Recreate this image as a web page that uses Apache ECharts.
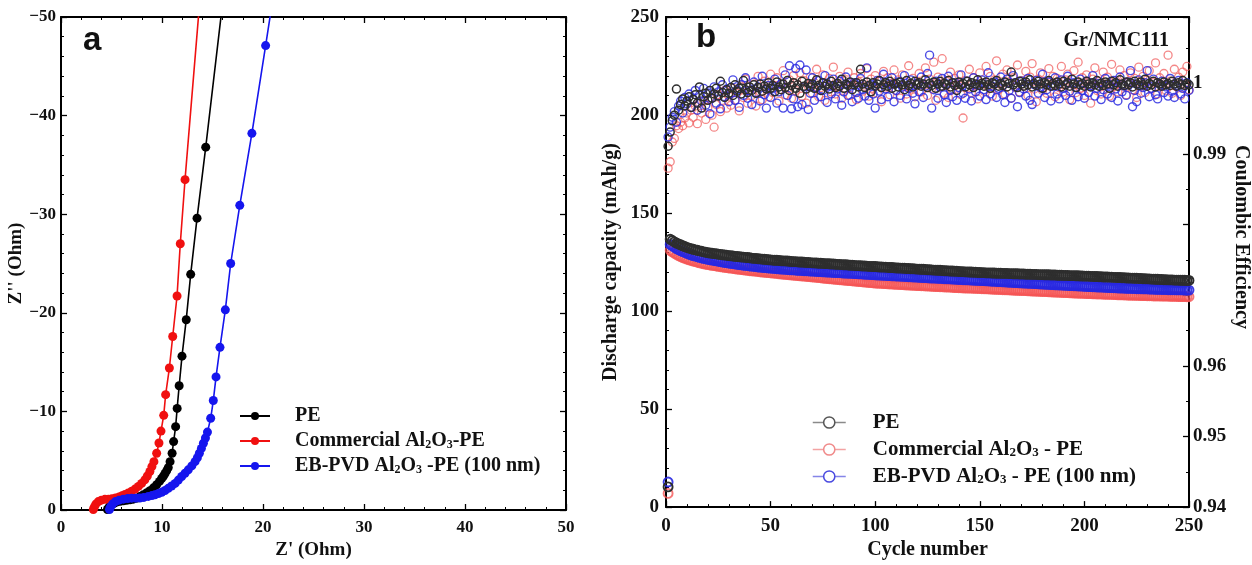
<!DOCTYPE html>
<html><head><meta charset="utf-8">
<script src="https://cdn.jsdelivr.net/npm/echarts@6/dist/echarts.min.js"></script>
<style>html,body{margin:0;padding:0;background:#fff}#c{width:1252px;height:565px}</style>
</head><body><div id="c"></div>
<script>
// ---------- Panel a: Nyquist plot (Z' , Z'') ----------
const zrePE = [4.6,4.7,4.85,5.0,5.25,5.5,5.85,6.17,6.5,6.83,7.15,7.5,7.82,8.15,8.5,8.8,9.15,9.47,9.75,9.97,10.15,10.3,10.47,10.62,10.8,11.0,11.15,11.35,11.5,11.7,11.98,12.4,12.84,13.47,14.33,16.18];
const zimPE = [-0.05,-0.2,-0.4,-0.54,-0.68,-0.8,-0.88,-0.94,-0.99,-1.04,-1.1,-1.2,-1.36,-1.55,-1.75,-1.95,-2.25,-2.56,-2.9,-3.2,-3.45,-3.7,-4.0,-4.3,-4.9,-5.76,-6.94,-8.45,-10.3,-12.6,-15.6,-19.3,-23.9,-29.6,-36.8,-53];
const zreCom = [3.2,3.3,3.45,3.7,4.0,4.35,4.7,5.05,5.4,5.75,6.05,6.34,6.67,7.0,7.33,7.66,7.98,8.3,8.55,8.8,9.0,9.2,9.47,9.7,9.9,10.17,10.36,10.73,11.06,11.49,11.81,12.28,13.85];
const zimCom = [-0.05,-0.3,-0.6,-0.85,-1.0,-1.08,-1.1,-1.15,-1.22,-1.32,-1.45,-1.58,-1.72,-1.9,-2.12,-2.39,-2.7,-3.06,-3.45,-3.9,-4.4,-4.9,-5.76,-6.8,-8.0,-9.6,-11.7,-14.4,-17.6,-21.7,-27.0,-33.5,-53];
const zreEB = [4.8,4.9,5.1,5.4,5.75,6.17,6.6,7.0,7.4,7.8,8.2,8.64,9.0,9.3,9.65,9.97,10.3,10.62,10.95,11.3,11.62,11.95,12.28,12.6,12.95,13.27,13.5,13.7,13.9,14.1,14.3,14.5,14.82,15.08,15.35,15.74,16.27,16.8,17.7,18.9,20.26,21.9];
const zimEB = [-0.05,-0.3,-0.6,-0.85,-1.0,-1.1,-1.17,-1.2,-1.2,-1.22,-1.28,-1.38,-1.46,-1.55,-1.67,-1.8,-1.98,-2.2,-2.43,-2.7,-3.03,-3.4,-3.73,-4.07,-4.47,-4.9,-5.3,-5.76,-6.25,-6.77,-7.3,-7.9,-9.3,-11.1,-13.5,-16.5,-20.3,-25.0,-30.9,-38.2,-47.1,-58];

// ---------- Panel b: cycling (cycle 1..250) ----------
const capPE = [10.3,136.6,136.0,135.3,134.7,134.2,133.8,133.3,132.9,132.5,
132.1,131.8,131.5,131.2,131.0,130.7,130.5,130.2,130.0,129.8,
129.6,129.5,129.3,129.2,129.0,128.9,128.7,128.6,128.5,128.3,
128.2,128.1,127.9,127.8,127.7,127.6,127.5,127.4,127.3,127.2,
127.0,126.9,126.9,126.7,126.6,126.5,126.4,126.3,126.2,126.1,
126.0,125.9,125.9,125.8,125.7,125.6,125.6,125.5,125.4,125.3,
125.2,125.2,125.1,125.0,125.0,124.9,124.8,124.8,124.7,124.6,
124.6,124.5,124.4,124.4,124.3,124.2,124.2,124.1,124.0,124.0,
123.9,123.8,123.8,123.7,123.6,123.6,123.5,123.4,123.4,123.3,
123.2,123.2,123.1,123.0,123.0,122.9,122.8,122.8,122.7,122.7,
122.6,122.5,122.5,122.4,122.4,122.3,122.2,122.2,122.1,122.0,
122.0,121.9,121.9,121.8,121.7,121.7,121.6,121.6,121.5,121.4,
121.4,121.3,121.3,121.2,121.1,121.1,121.0,120.9,120.9,120.8,
120.8,120.7,120.6,120.6,120.5,120.4,120.4,120.3,120.3,120.2,
120.1,120.1,120.0,120.0,119.9,119.9,119.8,119.8,119.7,119.7,
119.6,119.6,119.5,119.5,119.5,119.4,119.4,119.3,119.3,119.3,
119.2,119.2,119.2,119.1,119.1,119.0,119.0,119.0,118.9,118.9,
118.9,118.8,118.8,118.8,118.7,118.7,118.7,118.6,118.6,118.6,
118.5,118.5,118.5,118.4,118.4,118.4,118.3,118.3,118.3,118.2,
118.2,118.2,118.1,118.1,118.1,118.0,118.0,117.9,117.9,117.8,
117.8,117.8,117.7,117.7,117.6,117.6,117.5,117.5,117.4,117.4,
117.4,117.3,117.3,117.2,117.2,117.1,117.1,117.0,117.0,116.9,
116.9,116.8,116.8,116.7,116.7,116.6,116.6,116.5,116.5,116.4,
116.4,116.3,116.3,116.2,116.2,116.1,116.1,116.0,116.0,115.9,
115.9,115.9,115.8,115.8,115.8,115.7,115.7,115.7,115.6,115.6];
const capCom = [7.0,131.0,130.2,129.5,128.9,128.3,127.8,127.3,126.9,126.5,
126.1,125.8,125.5,125.2,124.9,124.6,124.4,124.1,123.9,123.7,
123.5,123.3,123.2,123.0,122.8,122.6,122.5,122.3,122.2,122.0,
121.9,121.7,121.6,121.4,121.3,121.2,121.0,120.9,120.8,120.6,
120.5,120.4,120.3,120.2,120.0,119.9,119.8,119.7,119.6,119.5,
119.4,119.3,119.2,119.0,118.9,118.8,118.7,118.6,118.5,118.4,
118.3,118.2,118.1,118.0,117.9,117.8,117.7,117.6,117.5,117.4,
117.3,117.2,117.1,117.0,116.8,116.7,116.6,116.5,116.4,116.3,
116.2,116.1,116.0,115.9,115.8,115.7,115.6,115.5,115.4,115.3,
115.2,115.1,115.0,114.9,114.8,114.7,114.6,114.5,114.4,114.3,
114.2,114.2,114.1,114.0,114.0,113.9,113.8,113.8,113.7,113.6,
113.6,113.5,113.5,113.4,113.3,113.3,113.2,113.2,113.1,113.0,
113.0,112.9,112.9,112.8,112.8,112.7,112.6,112.6,112.5,112.5,
112.4,112.4,112.3,112.3,112.2,112.2,112.1,112.0,112.0,111.9,
111.9,111.8,111.8,111.7,111.7,111.7,111.6,111.6,111.5,111.5,
111.4,111.4,111.3,111.3,111.2,111.2,111.1,111.1,111.0,111.0,
110.9,110.9,110.8,110.8,110.7,110.7,110.6,110.6,110.5,110.5,
110.4,110.4,110.3,110.3,110.2,110.2,110.1,110.1,110.0,110.0,
109.9,109.9,109.8,109.8,109.7,109.7,109.6,109.6,109.5,109.5,
109.4,109.4,109.3,109.3,109.2,109.2,109.1,109.1,109.0,109.0,
108.9,108.9,108.9,108.8,108.8,108.7,108.7,108.7,108.6,108.6,
108.5,108.5,108.5,108.4,108.4,108.3,108.3,108.3,108.2,108.2,
108.1,108.1,108.1,108.0,108.0,108.0,107.9,107.9,107.9,107.8,
107.8,107.8,107.7,107.7,107.7,107.7,107.6,107.6,107.6,107.6,
107.5,107.5,107.5,107.5,107.4,107.4,107.4,107.4,107.3,107.3];
const capEB = [12.8,134.0,133.3,132.6,131.9,131.3,130.8,130.3,129.9,129.4,
129.0,128.6,128.3,128.0,127.7,127.4,127.1,126.9,126.6,126.4,
126.2,126.0,125.8,125.6,125.4,125.2,125.0,124.8,124.7,124.5,
124.3,124.2,124.0,123.9,123.7,123.6,123.4,123.3,123.2,123.0,
122.9,122.8,122.7,122.5,122.4,122.3,122.2,122.1,122.0,121.9,
121.8,121.7,121.6,121.5,121.4,121.4,121.3,121.2,121.1,121.0,
121.0,120.9,120.8,120.8,120.7,120.6,120.6,120.5,120.4,120.4,
120.3,120.2,120.2,120.1,120.0,120.0,119.9,119.9,119.8,119.7,
119.7,119.6,119.6,119.5,119.4,119.4,119.3,119.3,119.2,119.1,
119.1,119.0,119.0,118.9,118.8,118.8,118.7,118.6,118.6,118.5,
118.4,118.4,118.3,118.3,118.2,118.1,118.1,118.0,118.0,117.9,
117.8,117.8,117.7,117.7,117.6,117.5,117.5,117.4,117.4,117.3,
117.2,117.2,117.1,117.1,117.0,116.9,116.9,116.8,116.8,116.7,
116.7,116.6,116.5,116.5,116.4,116.4,116.3,116.3,116.2,116.1,
116.1,116.0,116.0,115.9,115.9,115.8,115.8,115.7,115.7,115.6,
115.5,115.5,115.4,115.4,115.3,115.2,115.2,115.1,115.0,115.0,
114.9,114.9,114.8,114.7,114.7,114.6,114.5,114.5,114.4,114.4,
114.3,114.3,114.2,114.1,114.1,114.0,114.0,113.9,113.8,113.8,
113.7,113.7,113.6,113.5,113.5,113.4,113.4,113.3,113.3,113.2,
113.2,113.1,113.0,113.0,112.9,112.9,112.8,112.8,112.7,112.6,
112.6,112.5,112.5,112.4,112.4,112.3,112.3,112.2,112.2,112.1,
112.1,112.0,112.0,111.9,111.9,111.8,111.8,111.7,111.7,111.6,
111.6,111.6,111.5,111.5,111.4,111.4,111.4,111.3,111.3,111.3,
111.2,111.2,111.2,111.1,111.1,111.1,111.0,111.0,111.0,110.9,
110.9,110.9,110.9,110.8,110.8,110.8,110.8,110.7,110.7,110.7];
const cePE = [0.9911,0.9931,0.9947,0.9955,0.9992,0.9962,0.9970,0.9978,0.9968,0.9975,
0.9981,0.9966,0.9977,0.9984,0.9972,0.9995,0.9965,0.9981,0.9986,0.9976,
0.9990,0.9979,0.9985,0.9993,0.9982,1.0003,0.9987,0.9980,0.9991,0.9986,
0.9994,0.9983,0.9998,0.9989,0.9993,0.9985,1.0004,0.9991,0.9987,0.9995,
0.9990,0.9998,0.9986,0.9994,0.9999,0.9989,0.9996,0.9992,1.0001,0.9993,
0.9997,0.9988,1.0002,0.9995,0.9991,0.9999,0.9994,1.0004,0.9990,0.9997,
1.0001,0.9993,0.9998,0.9986,1.0003,0.9996,0.9992,1.0000,0.9995,0.9999,
0.9993,1.0005,0.9997,0.9990,1.0001,0.9996,0.9999,0.9992,1.0003,0.9997,
0.9994,1.0000,0.9996,1.0006,0.9993,0.9999,0.9997,1.0002,0.9991,0.9998,
1.0001,0.9995,1.0020,0.9999,0.9994,1.0002,0.9997,0.9988,1.0001,0.9996,
0.9999,1.0004,0.9994,0.9998,1.0001,0.9996,1.0003,0.9993,0.9999,1.0000,
0.9995,1.0002,0.9998,0.9991,1.0004,0.9997,1.0000,0.9995,1.0003,0.9998,
1.0001,0.9996,0.9999,1.0005,0.9994,1.0000,0.9997,1.0002,0.9993,0.9999,
1.0003,0.9996,1.0000,0.9998,1.0004,0.9995,1.0001,0.9997,0.9990,1.0002,
0.9998,1.0000,0.9995,1.0003,0.9998,1.0001,0.9994,0.9999,1.0005,0.9997,
1.0000,0.9996,1.0002,0.9998,0.9993,1.0001,0.9999,1.0004,0.9996,1.0000,
0.9997,1.0002,0.9995,1.0000,1.0016,0.9998,1.0001,0.9994,1.0003,0.9999,
0.9996,1.0002,0.9998,1.0005,0.9995,1.0000,0.9997,1.0003,0.9999,0.9993,
1.0001,0.9998,1.0004,0.9996,1.0000,0.9997,1.0002,0.9999,0.9995,1.0003,
0.9998,1.0001,0.9996,1.0006,0.9999,0.9994,1.0002,0.9998,1.0000,0.9996,
1.0003,0.9999,0.9995,1.0001,0.9998,1.0004,0.9996,1.0000,0.9997,1.0002,
0.9999,0.9993,1.0003,0.9998,1.0001,0.9996,1.0005,0.9999,0.9997,1.0002,
0.9998,1.0001,0.9995,1.0003,0.9999,0.9997,1.0002,0.9998,1.0006,0.9996,
1.0000,0.9998,1.0003,0.9995,1.0001,0.9999,0.9996,1.0002,0.9998,1.0000,
0.9997,1.0003,0.9999,0.9996,1.0001,0.9998,1.0004,0.9997,1.0000,0.9998];
const ceCom = [0.9880,0.9889,0.9917,0.9922,0.9940,0.9936,0.9945,0.9940,0.9951,0.9958,
0.9944,0.9962,0.9952,0.9968,0.9943,0.9972,0.9958,0.9975,0.9949,0.9966,
0.9979,0.9955,0.9938,0.9970,0.9984,0.9960,0.9976,0.9990,0.9965,0.9982,
0.9969,0.9993,0.9976,0.9987,0.9961,0.9995,0.9980,1.0006,0.9972,0.9990,
0.9983,0.9999,0.9968,1.0010,0.9988,0.9977,1.0003,0.9992,0.9981,1.0013,
0.9987,0.9996,1.0008,0.9975,0.9999,1.0018,0.9984,0.9993,1.0005,0.9979,
1.0011,0.9990,0.9998,1.0015,0.9982,1.0004,0.9972,0.9996,1.0009,0.9986,
1.0001,1.0020,0.9981,0.9994,1.0012,0.9976,0.9999,1.0007,0.9988,1.0023,
0.9985,0.9997,1.0010,0.9979,1.0004,0.9992,1.0016,0.9983,0.9998,1.0008,
0.9977,1.0002,1.0014,0.9989,0.9996,1.0021,0.9982,1.0006,0.9993,1.0011,
0.9986,1.0003,0.9974,1.0017,0.9995,1.0008,0.9984,1.0000,1.0019,0.9990,
1.0005,0.9979,1.0012,0.9996,0.9985,1.0025,0.9992,1.0007,0.9981,1.0001,
1.0014,0.9988,0.9997,1.0022,0.9983,1.0006,0.9993,1.0030,0.9976,1.0009,
0.9995,1.0035,0.9986,1.0003,0.9980,1.0016,0.9991,1.0007,0.9998,1.0012,
0.9984,0.9951,1.0004,0.9993,1.0020,0.9987,1.0008,0.9997,0.9978,1.0015,
1.0001,0.9989,1.0024,0.9995,1.0010,0.9982,1.0005,1.0032,0.9991,0.9998,
1.0013,0.9985,1.0019,1.0002,0.9979,1.0008,0.9994,1.0026,0.9988,1.0004,
0.9996,1.0017,0.9983,1.0009,1.0028,0.9992,0.9974,1.0006,1.0015,0.9990,
1.0003,0.9986,1.0021,0.9997,1.0010,0.9981,1.0007,0.9994,1.0024,0.9988,
1.0005,1.0013,0.9977,0.9999,1.0018,0.9987,1.0030,0.9993,1.0008,0.9983,
1.0012,0.9996,0.9972,1.0006,1.0022,0.9990,1.0003,0.9985,1.0016,0.9998,
1.0009,0.9982,1.0027,0.9995,1.0004,0.9988,1.0019,0.9997,1.0011,0.9984,
1.0002,1.0015,0.9991,1.0007,0.9980,1.0023,0.9996,1.0010,0.9987,1.0005,
1.0018,0.9993,1.0001,1.0029,0.9985,1.0008,0.9997,1.0014,0.9990,1.0040,
1.0003,0.9986,1.0020,0.9996,1.0009,0.9983,1.0016,0.9999,1.0024,0.9991];
const ceEB = [0.9924,0.9938,0.9952,0.9960,0.9945,0.9968,0.9975,0.9958,0.9980,0.9971,
0.9985,0.9966,0.9978,0.9990,0.9962,0.9983,0.9975,0.9993,0.9969,0.9986,
0.9957,0.9979,0.9995,0.9972,0.9988,0.9964,0.9998,0.9981,0.9992,0.9974,
0.9986,1.0005,0.9976,0.9991,0.9966,0.9998,0.9983,1.0008,0.9979,0.9990,
0.9970,1.0002,0.9987,0.9995,0.9975,1.0010,0.9984,0.9965,0.9997,0.9980,
0.9993,1.0006,0.9972,0.9988,0.9999,0.9965,1.0012,0.9983,1.0025,0.9964,
0.9978,1.0021,0.9967,1.0026,0.9970,0.9995,1.0019,0.9963,0.9986,1.0008,
0.9976,0.9994,1.0004,0.9981,0.9990,1.0011,0.9973,0.9997,0.9985,1.0006,
0.9978,0.9992,1.0003,0.9969,0.9988,1.0009,0.9983,0.9996,0.9974,1.0001,
0.9987,0.9979,1.0007,0.9991,0.9982,1.0022,0.9976,0.9998,0.9985,0.9965,
1.0004,0.9989,0.9977,1.0013,0.9992,0.9981,0.9999,1.0008,0.9974,0.9990,
1.0002,0.9983,0.9995,1.0011,0.9978,0.9993,1.0005,0.9986,0.9971,1.0000,
0.9988,1.0009,0.9980,0.9996,1.0014,1.0040,0.9965,0.9991,1.0003,0.9979,
0.9995,1.0007,0.9984,0.9973,1.0010,0.9990,0.9981,1.0001,0.9976,0.9994,
1.0012,0.9986,0.9979,1.0003,0.9992,0.9975,1.0008,0.9988,0.9997,0.9982,
1.0005,0.9991,0.9977,1.0015,0.9985,0.9996,1.0002,0.9980,0.9993,1.0009,
0.9984,0.9973,1.0006,0.9990,0.9979,1.0011,0.9995,0.9967,0.9987,1.0003,
0.9992,0.9982,1.0007,0.9976,0.9970,0.9998,1.0004,0.9986,0.9994,1.0013,
0.9980,0.9991,1.0002,0.9975,0.9996,1.0008,0.9985,0.9978,1.0005,0.9993,
0.9983,1.0010,0.9989,0.9976,1.0001,0.9994,0.9981,1.0006,0.9990,0.9979,
1.0003,0.9987,0.9996,1.0011,0.9982,0.9993,1.0000,0.9977,0.9991,1.0007,
0.9985,0.9998,0.9980,1.0004,0.9992,0.9975,1.0009,0.9988,0.9996,0.9983,
1.0002,1.0018,0.9967,0.9990,0.9974,1.0005,0.9986,0.9994,1.0001,1.0018,
0.9981,0.9993,1.0006,0.9984,0.9978,0.9999,1.0003,0.9987,0.9995,0.9982,
1.0007,0.9989,0.9980,0.9997,1.0004,0.9985,0.9993,0.9978,1.0001,0.9990];
const cycles = capPE.map((_, i) => i + 1);

// ---------- labels ----------
const xTicksA = [0, 10, 20, 30, 40, 50];
const yTicksA = [-50, -40, -30, -20, -10, 0];
const ceLabels = {94: '0.94', 95: '0.95', 96: '0.96', 99: '0.99', 100: '1'};
const legendA = {
  'PE·a': '{n|PE}',
  'Com·a': '{n|Commercial Al}{s|2}{n|O}{s|3}{n|-PE}',
  'EB·a': '{n|EB-PVD Al}{s|2}{n|O}{s|3}{n| -PE (100 nm)}'
};
const legendB = {
  'PE·b': '{n|PE}',
  'Com·b': '{n|Commercial Al}{s|2}{n|O}{s|3}{n| - PE}',
  'EB·b': '{n|EB-PVD Al}{s|2}{n|O}{s|3}{n| - PE (100 nm)}'
};

const SERIF = 'Liberation Serif';
const pair = (xs, ys) => xs.map((x, i) => [x, ys[i]]);
const byCycle = ys => cycles.map((c, i) => [c, ys[i]]);
const minus = v => v < 0 ? '\u2212' + (-v) : String(v);

function axis(o) {
  return Object.assign({
    type: 'value',
    axisLine: {show: true, onZero: false, lineStyle: {color: '#000', width: 2}},
    axisTick: {show: true, inside: true, length: 6, lineStyle: {color: '#000', width: 1.3}},
    minorTick: {show: true, splitNumber: 5, length: 3, lineStyle: {color: '#000', width: 1}},
    splitLine: {show: false},
    minorSplitLine: {show: false},
    axisLabel: {show: false}
  }, o);
}
const lbl = (size, extra) => Object.assign({show: true, fontFamily: SERIF, fontWeight: 'bold', fontSize: size, color: '#111'}, extra || {});
const nameStyle = (size, extra) => Object.assign({fontFamily: SERIF, fontWeight: 'bold', fontSize: size, color: '#111'}, extra || {});

function richLegend(size) {
  return {
    n: {fontFamily: SERIF, fontWeight: 'bold', fontSize: size, color: '#111', lineHeight: 20},
    s: {fontFamily: SERIF, fontWeight: 'bold', fontSize: Math.round(size * 0.62), color: '#111', verticalAlign: 'bottom', lineHeight: 12}
  };
}

function eisSeries(name, color, xs, ys) {
  return {
    name, type: 'line', xAxisIndex: 0, yAxisIndex: 0,
    data: pair(xs, ys), symbol: 'circle', symbolSize: 9, showAllSymbol: true,
    lineStyle: {color, width: 1.6}, itemStyle: {color}, silent: true
  };
}
function cycSeries(name, stroke, ys, yIdx, z, size, bw) {
  return {
    name, type: 'line', xAxisIndex: 2, yAxisIndex: yIdx, z,
    data: byCycle(ys), symbol: 'circle', symbolSize: size, showAllSymbol: true,
    lineStyle: {opacity: 0, width: 1},
    itemStyle: {color: 'rgba(255,255,255,0)', borderColor: stroke, borderWidth: bw},
    silent: true
  };
}

const cBlack = '#2e2e2e', cRed = 'rgba(240,95,95,0.75)', cBlue = 'rgba(45,45,225,0.85)';

const option = {
  animation: false,
  backgroundColor: '#fff',
  grid: [
    {left: 61, top: 17, width: 505, height: 495},
    {left: 666, top: 17, width: 524, height: 495}
  ],
  xAxis: [
    axis({gridIndex: 0, position: 'bottom', min: xTicksA[0], max: xTicksA[xTicksA.length - 1], interval: 10,
      axisLabel: lbl(17, {margin: 9}),
      name: "Z' (Ohm)", nameLocation: 'middle', nameGap: 31, nameTextStyle: nameStyle(19)}),
    axis({gridIndex: 0, position: 'top', min: 0, max: 50, interval: 10}),
    axis({gridIndex: 1, position: 'bottom', min: 0, max: 250, interval: 50,
      axisLabel: lbl(19, {margin: 9}),
      name: 'Cycle number', nameLocation: 'middle', nameGap: 30, nameTextStyle: nameStyle(20)}),
    axis({gridIndex: 1, position: 'top', min: 0, max: 250, interval: 50})
  ],
  yAxis: [
    axis({gridIndex: 0, position: 'left', min: yTicksA[0], max: yTicksA[yTicksA.length - 1], interval: 10, inverse: true,
      axisLabel: lbl(17, {margin: 5, formatter: minus}),
      name: "Z'' (Ohm)", nameLocation: 'middle', nameGap: 33, nameRotate: 90, nameTextStyle: nameStyle(19)}),
    axis({gridIndex: 0, position: 'right', min: -50, max: 0, interval: 10, inverse: true}),
    axis({gridIndex: 1, position: 'left', min: 0, max: 250, interval: 50,
      axisLabel: lbl(19, {margin: 7}),
      name: 'Discharge capacity (mAh/g)', nameLocation: 'middle', nameGap: 45, nameRotate: 90, nameTextStyle: nameStyle(20)}),
    axis({gridIndex: 1, position: 'right', min: 0.94, max: 1.0094, interval: 0.01,
      minorTick: {show: true, splitNumber: 2, length: 3, lineStyle: {color: '#000', width: 1}},
      axisLabel: lbl(19, {margin: 4, formatter: v => ceLabels[Math.round(v * 100)] || ''}),
      name: 'Coulombic Efficiency', nameLocation: 'middle', nameGap: 42, nameRotate: -90,
      nameTextStyle: nameStyle(20, {padding: [0, 50, 0, 0]})})
  ],
  legend: [
    {
      left: 239, top: 406, orient: 'vertical', padding: 0, itemWidth: 30, itemHeight: 10, itemGap: 5,
      data: ['PE·a', 'Com·a', 'EB·a'],
      formatter: n => legendA[n],
      textStyle: {padding: [0, 0, 0, 20], rich: richLegend(20)},
      selectedMode: false
    },
    {
      left: 812, top: 412, orient: 'vertical', padding: 0, itemWidth: 33, itemHeight: 14, itemGap: 6,
      data: [
        {name: 'PE·b', lineStyle: {color: '#8a8a8a', width: 1.5, opacity: 1}, itemStyle: {color: '#fff', borderColor: '#555', borderWidth: 1.5}},
        {name: 'Com·b', lineStyle: {color: '#f3a3a3', width: 1.5, opacity: 1}, itemStyle: {color: '#fff', borderColor: '#f08a8a', borderWidth: 1.5}},
        {name: 'EB·b', lineStyle: {color: '#8585e8', width: 1.5, opacity: 1}, itemStyle: {color: '#fff', borderColor: '#4a4ae0', borderWidth: 1.5}}
      ],
      formatter: n => legendB[n],
      textStyle: {padding: [0, 0, 0, 22], rich: richLegend(21)},
      selectedMode: false
    }
  ],
  graphic: [
    {type: 'text', left: 83, top: 24, style: {text: 'a', font: 'bold 33px "Liberation Sans"', fill: '#111'}},
    {type: 'text', left: 696, top: 21, style: {text: 'b', font: 'bold 33px "Liberation Sans"', fill: '#111'}},
    {type: 'text', right: 1252 - 1169, top: 31, style: {text: 'Gr/NMC111', font: 'bold 20px "Liberation Serif"', fill: '#111'}}
  ],
  series: [
    eisSeries('PE·a', '#000000', zrePE, zimPE),
    eisSeries('Com·a', '#f01010', zreCom, zimCom),
    eisSeries('EB·a', '#1515ee', zreEB, zimEB),
    cycSeries('PE·b', cBlack, capPE, 2, 6, 9, 1.9),
    cycSeries('Com·b', 'rgba(245,85,85,0.8)', capCom, 2, 4, 9, 1.9),
    cycSeries('EB·b', 'rgba(40,40,225,0.9)', capEB, 2, 5, 9, 1.9),
    cycSeries('PE·b', cBlack, cePE, 3, 6, 8, 1.5),
    cycSeries('Com·b', cRed, ceCom, 3, 4, 8, 1.3),
    cycSeries('EB·b', cBlue, ceEB, 3, 5, 8, 1.4)
  ]
};
const chart = echarts.init(document.getElementById('c'), null, {renderer: 'canvas'});
chart.setOption(option);
</script></body></html>
